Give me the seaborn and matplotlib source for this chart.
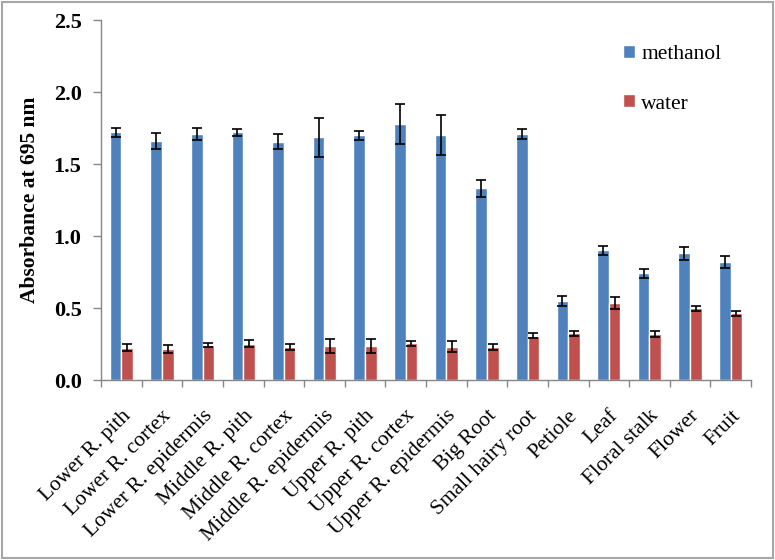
import numpy as np
import pandas as pd
import matplotlib
matplotlib.use("Agg")
import matplotlib.pyplot as plt
from matplotlib.patches import Rectangle
import seaborn as sns

categories = ["Lower R. pith", "Lower R. cortex", "Lower R. epidermis", "Middle R. pith",
              "Middle R. cortex", "Middle R. epidermis", "Upper R. pith", "Upper R. cortex",
              "Upper R. epidermis", "Big Root", "Small hairy root", "Petiole", "Leaf",
              "Floral stalk", "Flower", "Fruit"]
methanol = [1.72, 1.66, 1.71, 1.72, 1.655, 1.685, 1.70, 1.78, 1.70, 1.33, 1.71,
            0.55, 0.90, 0.74, 0.88, 0.82]
methanol_err = [0.03, 0.057, 0.04, 0.025, 0.05, 0.134, 0.03, 0.139, 0.14, 0.056, 0.035,
                0.033, 0.032, 0.033, 0.044, 0.044]
water = [0.224, 0.217, 0.241, 0.252, 0.229, 0.236, 0.236, 0.255, 0.231, 0.227, 0.308,
         0.326, 0.535, 0.319, 0.498, 0.463]
water_err = [0.023, 0.028, 0.015, 0.025, 0.021, 0.046, 0.046, 0.016, 0.037, 0.02, 0.017,
             0.017, 0.04, 0.018, 0.018, 0.016]
series = ["methanol", "water"]
yticks = [0.0, 0.5, 1.0, 1.5, 2.0, 2.5]

sns.set_theme(style="white")
SERIF = ['Liberation Serif', 'DejaVu Serif']
plt.rcParams['font.family'] = SERIF
plt.rcParams['text.color'] = 'black'
plt.rcParams['axes.labelcolor'] = 'black'
plt.rcParams['xtick.labelcolor'] = 'black'
plt.rcParams['ytick.labelcolor'] = 'black'

df = pd.DataFrame({
    "category": categories * 2,
    "series": [series[0]] * len(categories) + [series[1]] * len(categories),
    "value": methanol + water,
})

fig = plt.figure(figsize=(7.75, 5.6), dpi=100)
ax = fig.add_axes([101/775, 1 - 380/560, 650/775, 360/560])

sns.barplot(data=df, x="category", y="value", hue="series", order=categories,
            hue_order=series, palette=["#4F81BD", "#C0504D"], width=0.57,
            errorbar=None, saturation=1, ax=ax)

errs = [methanol_err, water_err]
vals = [methanol, water]
for cont, e, v in zip(ax.containers, errs, vals):
    xs = [p.get_x() + p.get_width() / 2 for p in cont.patches]
    ax.errorbar(xs, v, yerr=e, fmt="none", ecolor="black", elinewidth=1.2,
                capsize=3.3, capthick=1.2, zorder=5)

ax.set_ylim(0, 2.5)
ax.set_xlim(-0.5, len(categories) - 0.5)
ax.set_yticks(yticks)
ax.set_yticklabels([f"{t:.1f}" for t in yticks], fontsize=16, fontweight="bold",
                   family=SERIF, color="black")
ax.set_xticks(range(len(categories)))
ax.set_xticklabels(categories, rotation=45, ha="right", rotation_mode="anchor",
                   fontsize=15.5, family=SERIF, color="black")
ax.set_xticks(np.arange(-0.5, len(categories), 1), minor=True)
ax.tick_params(axis="x", which="major", length=0, pad=19)
ax.tick_params(axis="x", which="minor", length=5, width=1, color="#868686", direction="out", bottom=True)
ax.tick_params(axis="y", which="major", length=6, width=1, color="#868686", direction="out", left=True, pad=8)
ax.set_xlabel("")
ax.set_ylabel("Absorbance at 695 nm", fontsize=15.5, fontweight="bold", labelpad=10,
              family=SERIF, color="black")

for s in ["top", "right"]:
    ax.spines[s].set_visible(False)
for s in ["left", "bottom"]:
    ax.spines[s].set_color("#868686")
    ax.spines[s].set_linewidth(1)

handles, labels = ax.get_legend_handles_labels()
leg = ax.legend(handles, labels, loc="upper left", bbox_to_anchor=(0.803, 0.93), frameon=False,
                prop={'family': SERIF, 'size': 15.5}, handlelength=0.55, handleheight=0.55,
                handletextpad=0.3, labelspacing=1.4, borderpad=0, borderaxespad=0)
for t in leg.get_texts():
    t.set_color("black")

fig.patches.append(Rectangle((1.5/775, 2/560), 771/775, 556/560, transform=fig.transFigure,
                             fill=False, edgecolor="#a6a6a6", lw=1.5))

fig.savefig("out.png", dpi=100)
